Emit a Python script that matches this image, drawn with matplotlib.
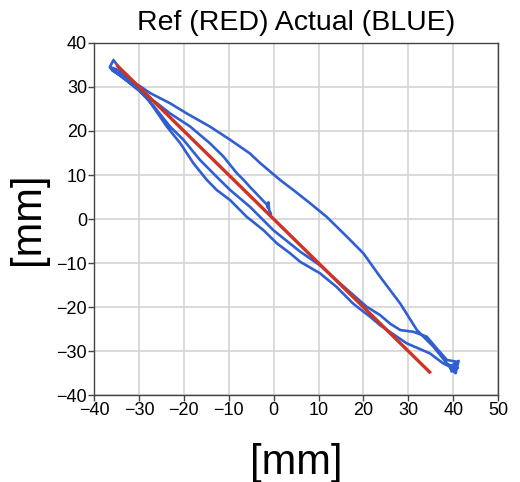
import matplotlib
matplotlib.use("Agg")
import matplotlib.pyplot as plt

plt.rcParams["font.family"] = ["Liberation Sans", "DejaVu Sans"]

# Reference path (straight line)
ref_x = [-35, 35]
ref_y = [35, -35]

# Measured path, in the order it was travelled
act_x = [
    # from the centre up to the top-left corner
    -0.6, -1.0, -1.2, -1.3, -1.6, -2.2, -3.5, -5.3, -6.7, -8.2, -11.2, -14.2,
    -18.6, -23.1, -26.0, -28.5, -31.0, -33.5, -35.5, -36.3, -35.2, -36.0,
    # down to the bottom-right corner (first lower pass)
    -34.0, -31.5, -29.8, -27.0, -23.1, -20.1, -16.4, -12.7, -9.7, -5.3, -0.1,
    5.9, 10.3, 14.8, 20.7, 23.7, 26.0, 28.2, 31.1, 34.1, 36.0, 38.6, 40.8,
    39.3, 40.5, 41.2, 39.5, 40.0,
    # back up to the top-left corner (upper pass)
    38.6, 35.6, 31.9, 28.2, 23.7, 20.0, 16.3, 11.8, 8.1, 4.5, 1.4, -3.0, -5.3,
    -9.7, -14.2, -19.4, -23.1, -27.5, -30.0, -33.0, -35.0, -36.5, -35.7,
    # down again to the bottom-right corner (second lower pass)
    -34.0, -31.0, -28.0, -23.8, -20.8, -17.9, -14.9, -12.7, -9.7, -6.0, -2.3,
    0.7, 3.7, 5.9, 10.3, 14.0, 17.7, 21.5, 23.7, 29.6, 34.8, 37.8, 39.0, 40.6,
    39.2, 41.0, 39.6, 40.8, 39.4,
]
act_y = [
    1.2, 2.0, 3.8, 2.6, 3.4, 4.0, 5.4, 7.3, 8.9, 10.4, 14.2, 17.2,
    21.0, 24.0, 26.3, 28.0, 30.0, 32.0, 33.5, 34.2, 33.6, 33.8,
    32.5, 30.5, 29.0, 26.0, 21.0, 18.0, 13.4, 9.6, 6.6, 2.8, -2.5,
    -7.4, -10.5, -14.6, -19.9, -21.8, -23.8, -25.2, -25.6, -26.7, -29.0, -32.0, -32.4,
    -33.6, -35.0, -32.2, -34.2, -33.6,
    -32.8, -29.0, -25.2, -19.2, -13.1, -7.8, -4.0, 0.5, 3.6, 6.5, 8.9, 12.7, 14.9,
    18.0, 21.0, 24.0, 26.3, 28.6, 30.3, 32.3, 34.0, 34.5, 36.1,
    33.8, 30.5, 27.2, 21.0, 17.2, 12.7, 8.9, 6.6, 4.3, 0.5, -2.5,
    -5.5, -7.8, -9.7, -12.3, -15.4, -19.2, -22.2, -24.1, -28.2, -30.5, -32.8, -33.4, -34.8,
    -33.2, -33.8, -34.6, -32.8, -34.0,
]

x_ticks = [-40, -30, -20, -10, 0, 10, 20, 30, 40, 50]
y_ticks = [-40, -30, -20, -10, 0, 10, 20, 30, 40]

fig = plt.figure(figsize=(5.2, 4.82), dpi=100)
ax = fig.add_axes([0.181, 0.180, 0.777, 0.731])

ax.plot(act_x, act_y, color="#2f5fd0", lw=1.9, solid_joinstyle="round",
        solid_capstyle="round", zorder=3)
ax.plot(ref_x, ref_y, color="#cf3324", lw=2.4, solid_capstyle="butt", zorder=4)

ax.set_xlim(-40, 50)
ax.set_ylim(-40, 40)
ax.set_xticks(x_ticks)
ax.set_yticks(y_ticks)
ax.grid(True, color="#d4d4d4", lw=1.2)
ax.set_axisbelow(True)
for s in ax.spines.values():
    s.set_color("#444444")
    s.set_linewidth(1.0)
ax.tick_params(direction="out", length=4, width=1, color="#444444",
               labelsize=13, pad=1)

ax.set_title("Ref (RED) Actual (BLUE)", fontsize=20.5, pad=9)
ax.set_xlabel("[mm]", fontsize=30, labelpad=17)
ax.set_ylabel("[mm]", fontsize=30, labelpad=6)

fig.savefig("out.png", dpi=100)
